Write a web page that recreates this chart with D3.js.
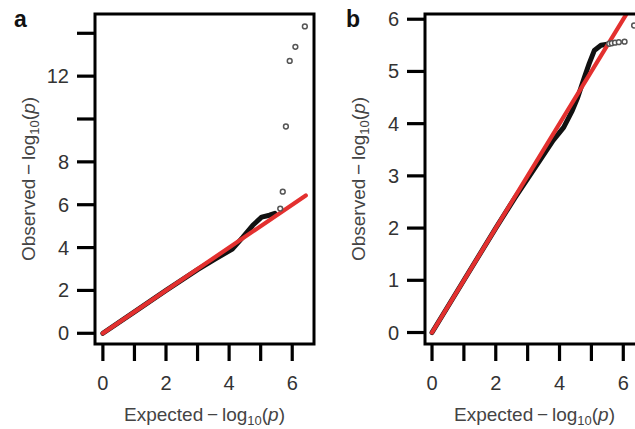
<!DOCTYPE html>
<html><head><meta charset="utf-8">
<script src="https://cdn.jsdelivr.net/npm/d3@7"></script>
<style>
body{margin:0;background:#fff;}
svg{display:block;font-family:"Liberation Sans",Arial,Helvetica,sans-serif;}
</style></head>
<body><svg id="c" width="635" height="429"></svg>
<script>
// ---- Data ----
// Panel a
const bulkExpA = [0, 1, 2, 3, 3.5, 4.1, 4.43, 4.75, 5.03, 5.28, 5.45];
const bulkObsA = [0, 1, 2, 2.97, 3.42, 3.93, 4.48, 5.04, 5.42, 5.51, 5.6];
const tailExpA = [5.62, 5.70, 5.80, 5.92, 6.10, 6.40];
const tailObsA = [5.82, 6.61, 9.65, 12.71, 13.37, 14.32];
const refA = [0, 6.43];
const xTicksA = [0, 1, 2, 3, 4, 5, 6];
const xLabelsA = ["0", "", "2", "", "4", "", "6"];
const yTicksA = [0, 2, 4, 6, 8, 10, 12, 14];
const yLabelsA = ["0", "2", "4", "6", "8", "", "12", ""];
// Panel b
const bulkExpB = [0, 1, 2, 2.6, 3.41, 3.8, 4.13, 4.4, 4.57, 4.77, 4.93, 5.09, 5.30, 5.50];
const bulkObsB = [0, 1, 2, 2.58, 3.32, 3.68, 3.93, 4.25, 4.50, 4.87, 5.15, 5.40, 5.50, 5.52];
const tailExpB = [5.56, 5.64, 5.74, 5.86, 6.04, 6.34];
const tailObsB = [5.53, 5.54, 5.55, 5.56, 5.57, 5.88];
const refB = [0, 6.34];
const xTicksB = [0, 1, 2, 3, 4, 5, 6];
const xLabelsB = ["0", "", "2", "", "4", "", "6"];
const yTicksB = [0, 1, 2, 3, 4, 5, 6];
const yLabelsB = ["0", "1", "2", "3", "4", "5", "6"];

const svg = d3.select("#c");
const RED = "#e3302f";

function panel(cfg){
  const x = d3.scaleLinear().domain(cfg.xLim).range([cfg.left, cfg.right]);
  const y = d3.scaleLinear().domain(cfg.yLim).range([cfg.bottom, cfg.top]);
  const g = svg.append("g");
  const clipId = "clip" + cfg.id;
  g.append("clipPath").attr("id", clipId).append("rect")
    .attr("x", cfg.left).attr("y", cfg.top)
    .attr("width", cfg.right - cfg.left).attr("height", cfg.bottom - cfg.top);
  const plot = g.append("g").attr("clip-path", `url(#${clipId})`);
  // bulk of points (dense black band)
  const bulk = cfg.bulkExp.map((e,i)=>[e, cfg.bulkObs[i]]);
  const line = d3.line().x(d=>x(d[0])).y(d=>y(d[1])).curve(d3.curveLinear);
  plot.append("path").attr("d", line(bulk)).attr("fill","none")
    .attr("stroke","#111").attr("stroke-width",5).attr("stroke-linecap","round").attr("stroke-linejoin","round");
  // tail points
  const tail = cfg.tailExp.map((e,i)=>[e, cfg.tailObs[i]]);
  g.selectAll("circle.t").data(tail).join("circle")
    .attr("cx", d=>x(d[0])).attr("cy", d=>y(d[1])).attr("r", 2.4)
    .attr("fill","#fff").attr("stroke","#555").attr("stroke-width",1.5);
  // reference line
  plot.append("line")
    .attr("x1", x(cfg.ref[0])).attr("y1", y(cfg.ref[0]))
    .attr("x2", x(cfg.ref[1])).attr("y2", y(cfg.ref[1]))
    .attr("stroke", RED).attr("stroke-width",4.2).attr("stroke-linecap","round");
  // box
  g.append("rect").attr("x", cfg.left).attr("y", cfg.top)
    .attr("width", cfg.right - cfg.left).attr("height", cfg.bottom - cfg.top)
    .attr("fill","none").attr("stroke","#000").attr("stroke-width",3);
  // x axis ticks
  const xa = g.append("g");
  cfg.xTicks.forEach((t,i)=>{
    xa.append("line").attr("x1", x(t)).attr("x2", x(t))
      .attr("y1", cfg.bottom).attr("y2", cfg.bottom + 17)
      .attr("stroke","#000").attr("stroke-width",3.2);
    if (cfg.xLabels[i]) xa.append("text").attr("x", x(t)).attr("y", cfg.bottom + 46)
      .attr("text-anchor","middle").attr("font-size",20).attr("fill","#333").text(cfg.xLabels[i]);
  });
  // y axis ticks
  const ya = g.append("g");
  cfg.yTicks.forEach((t,i)=>{
    ya.append("line").attr("x1", cfg.left - 18).attr("x2", cfg.left)
      .attr("y1", y(t)).attr("y2", y(t))
      .attr("stroke","#000").attr("stroke-width",3.2);
    if (cfg.yLabels[i]) ya.append("text").attr("x", cfg.left - 26).attr("y", y(t) + 7)
      .attr("text-anchor","end").attr("font-size",20).attr("fill","#333").text(cfg.yLabels[i]);
  });
  // titles
  const cx = (cfg.left + cfg.right)/2;
  const xt = g.append("text").attr("x", cx).attr("y", 421).attr("text-anchor","middle")
    .attr("font-size",19).attr("fill","#444");
  xt.append("tspan").text("Expected\u2009\u2212\u2009log");
  xt.append("tspan").attr("font-size",13).attr("dy",4).text("10");
  xt.append("tspan").attr("dy",-4).text("(");
  xt.append("tspan").attr("font-style","italic").text("p");
  xt.append("tspan").text(")");
  const cy = (cfg.top + cfg.bottom)/2;
  const yt = g.append("text").attr("transform", `translate(${cfg.left - 60},${cy}) rotate(-90)`)
    .attr("text-anchor","middle").attr("font-size",19).attr("fill","#444");
  yt.append("tspan").text("Observed\u2009\u2212\u2009log");
  yt.append("tspan").attr("font-size",13).attr("dy",4).text("10");
  yt.append("tspan").attr("dy",-4).text("(");
  yt.append("tspan").attr("font-style","italic").text("p");
  yt.append("tspan").text(")");
  // panel letter
  g.append("text").attr("x", cfg.letterX).attr("y", 27).attr("font-size",23)
    .attr("font-weight","bold").attr("fill","#111").text(cfg.letter);
}

panel({id:"a", letter:"a", letterX:14,
  left:95, right:314, top:14, bottom:344,
  xLim:[-0.25, 6.69], yLim:[-0.5, 14.9],
  bulkExp:bulkExpA, bulkObs:bulkObsA, tailExp:tailExpA, tailObs:tailObsA, ref:refA,
  xTicks:xTicksA, xLabels:xLabelsA, yTicks:yTicksA, yLabels:yLabelsA});
panel({id:"b", letter:"b", letterX:346,
  left:425, right:644, top:14, bottom:344,
  xLim:[-0.22, 6.65], yLim:[-0.22, 6.1],
  bulkExp:bulkExpB, bulkObs:bulkObsB, tailExp:tailExpB, tailObs:tailObsB, ref:refB,
  xTicks:xTicksB, xLabels:xLabelsB, yTicks:yTicksB, yLabels:yLabelsB});
</script></body></html>
